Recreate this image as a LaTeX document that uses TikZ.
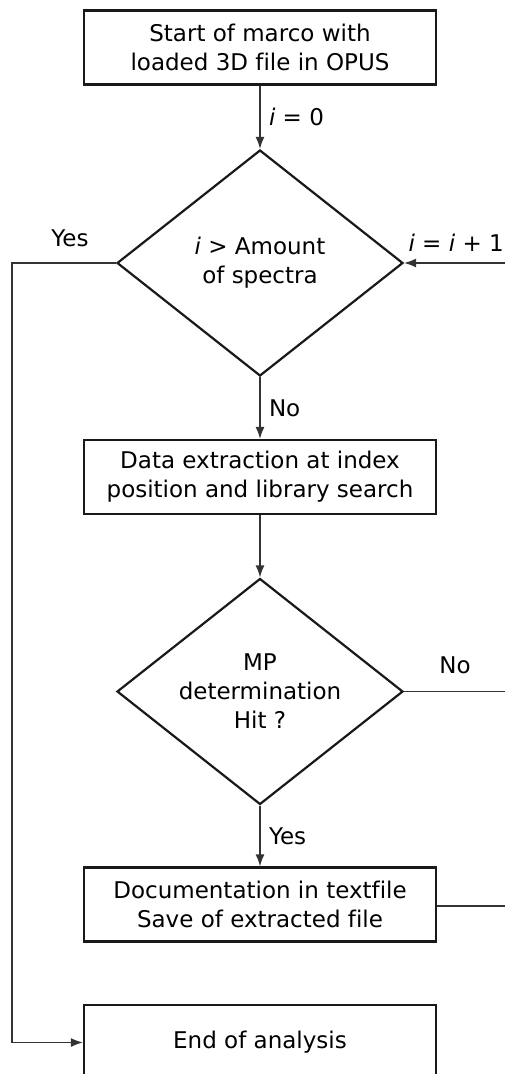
\documentclass[tikz,border=0pt]{standalone}
\usepackage{fontspec}
\setmainfont[Ligatures=NoCommon]{DejaVu Sans}
\usetikzlibrary{
    arrows.meta,
    shapes.geometric,
    positioning
}

\tikzset{
    block/.style={draw=black!90, line width=2.2pt, minimum width=352pt, minimum height=74pt, align=center, inner sep=0pt},
    decision/.style={draw=black!90, line width=2.2pt, diamond, aspect=1.265, minimum width=286pt, minimum height=226pt, align=center, inner sep=0pt},
    conn/.style={draw=black!80, line width=1.4pt},
    flow/.style={conn, -{Latex[length=12pt, width=9pt]}},
    every node/.style={font=\fontsize{23}{29}\selectfont}
}

\begin{document}
\begin{tikzpicture}[x=1pt, y=-1pt]
                        \useasboundingbox (0, 0) rectangle (505, 1074);
                        \node[block] (start) at (260, 47.5) {Start of marco with\\loaded 3D file in OPUS};
                        \node[decision] (check) at (260, 263) {\textit{i} > Amount\\of spectra};
                        \node[block] (extract) at (260, 477) {Data extraction at index\\position and library search};
                        \node[decision] (hit) at (260, 691.5) {MP\\determination\\Hit ?};
                        \node[block] (doc) at (260, 904.5) {Documentation in textfile\\Save of extracted file};
                        \node[block, minimum height=75pt] (finish) at (260, 1042.5) {End of analysis};
                        \coordinate (yesturn) at (12, 263);
                        \coordinate (loopin) at (510, 263);
                        \coordinate (noout) at (510, 691.5);
                        \coordinate (docout) at (510, 906);
                        \draw[flow] (start) -- node[right=5pt] {\textit{i} = 0} (check);
                        \draw[flow] (check) -- node[right=5pt] {No} (extract);
                        \draw[flow] (extract) -- (hit);
                        \draw[flow] (hit) -- node[right=5pt] {Yes} (doc);
                        \draw[flow] (check.west) -- (yesturn) |- (finish.west);
                        \draw[flow] (loopin) -- (check.east);
                        \draw[conn] (hit.east) -- (noout);
                        \draw[conn] (doc.east |- docout) -- (docout);
                        \node (yeslabel) at (70, 238) {Yes};
                        \node[anchor=west] (looplabel) at (405, 243) {\textit{i} = \textit{i} + 1};
                        \node (nolabel) at (455, 665) {No};
                    \end{tikzpicture}
\end{document}
